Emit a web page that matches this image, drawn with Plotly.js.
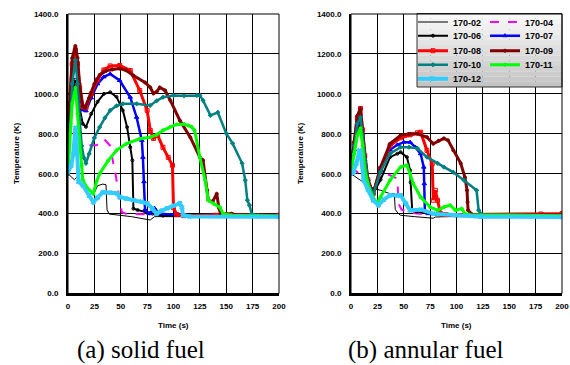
<!DOCTYPE html>
<html><head><meta charset="utf-8">
<script src="https://cdn.plot.ly/plotly-3.0.1.min.js"></script>
<style>html,body{margin:0;padding:0;background:#fff;}#chart{width:570px;height:365px;}</style>
</head><body><div id="chart"></div>
<script>
// ---------- DATA ----------
const seriesNames = ['170-02','170-04','170-06','170-07','170-08','170-09','170-10','170-11','170-12'];
const xTickVals = [0,25,50,75,100,125,150,175,200];
const yTickVals = [0,200,400,600,800,1000,1200,1400];
const captionA = '(a) solid fuel';
const captionB = '(b) annular fuel';

// (a) solid fuel
const a_t_02 = [0,3,6,9,12,20,25,28,33,36,37,39,60,78,82,100,200];
const a_T_02 = [600,585,570,585,560,520,505,540,548,545,420,398,385,368,385,385,383];
const a_t_04 = [0,4,7,12,19,27,34,40,43,45,48,51,55,65,80,200];
const a_T_04 = [610,650,700,720,742,742,775,740,650,600,500,407,400,398,395,388];
const a_t_06 = [0,2,4,7,9,11,14,17,22,28,34,40,46,52,56,59,61,62,66,75,80,90,200];
const a_T_06 = [620,850,1000,1070,1020,930,850,835,900,960,1000,1008,985,917,833,733,667,425,418,405,400,390,385];
const a_t_07 = [0,2,4,7,9,11,14,17,22,28,34,40,49,59,65,70,71,72,73,77,82,86,105,110,200];
const a_T_07 = [620,900,1080,1180,1120,1000,920,915,980,1050,1085,1100,1067,983,883,767,682,560,420,400,427,400,395,387,385];
const a_t_08 = [0,2,4,7,9,11,14,17,22,28,34,40,49,59,68,75,78,81,85,90,95,99,100,103,110,140,150,200];
const a_T_08 = [630,950,1150,1220,1150,1030,935,930,1000,1070,1120,1140,1142,1117,1017,917,817,777,792,732,682,642,430,395,390,392,395,392];
const a_t_09 = [0,2,4,7,9,11,14,16,20,25,30,36,42,49,55,62,73,78,81,84,87,92,97,106,116,125,128,132,133,137,141,143,145,155,160,200];
const a_T_09 = [640,1000,1180,1240,1180,1050,940,930,980,1050,1095,1115,1122,1127,1118,1092,1057,1032,1002,1010,1032,1017,967,867,782,682,667,517,467,460,500,430,392,400,392,390];
const a_t_10 = [0,2,4,7,9,11,13,15,17,20,25,30,35,40,46,52,65,78,84,90,100,110,122,125,128,135,142,150,156,165,168,170,172,174,180,200];
const a_T_10 = [600,850,1050,1170,1050,880,740,680,652,700,780,833,880,917,940,950,950,942,965,983,992,990,992,992,967,892,907,802,752,652,567,467,442,400,390,388];
const a_t_11 = [0,2,4,7,9,11,13,14,18,24,27,30,38,46,55,68,78,84,90,97,103,110,114,117,120,125,130,133,138,144,147,155,200];
const a_T_11 = [610,800,950,1030,900,750,640,570,530,500,560,600,665,717,750,775,783,795,817,835,847,848,842,835,817,682,567,467,450,432,400,392,388];
const a_t_12 = [0,3,5,7,8,10,14,20,24,28,33,40,46,49,55,62,70,75,80,84,89,94,100,106,108,109,115,200];
const a_T_12 = [610,640,700,830,780,560,542,490,457,480,507,505,502,483,475,467,460,452,425,400,415,427,440,452,430,392,386,384];

// (b) annular fuel
const b_t_02 = [0,3,9,15,22,28,37,41,42,45,47,60,78,80,90,200];
const b_T_02 = [600,590,567,545,525,517,500,500,420,400,392,385,377,383,385,383];
const b_t_04 = [0,4,8,15,22,31,38,44,45,48,55,65,200];
const b_T_04 = [600,615,600,545,530,605,590,575,450,420,405,400,390];
const b_t_06 = [0,3,6,9,11,13,16,21,28,37,44,47,53,56,56.5,58,62,75,80,200];
const b_T_06 = [600,700,820,860,780,650,560,500,570,683,700,708,683,617,557,417,410,405,398,385];
const b_t_07 = [0,3,6,9,11,13,16,21,28,37,44,50,56,61,66,69,69.5,70,73,200];
const b_T_07 = [610,720,850,890,800,670,570,505,620,720,745,758,758,733,700,633,550,417,400,386];
const b_t_08 = [0,3,6,9,11,13,16,21,28,37,47,56,63,66,72,77,78,80,82,85,90,180,200];
const b_T_08 = [620,750,880,927,820,690,570,500,625,740,780,795,805,808,717,650,467,517,467,400,395,398,400];
const b_t_09 = [0,3,6,9,11,13.5,16,21,28,37,47,55,63,72,78,83,88,92,97,104,108,110,110.5,111,115,200];
const b_T_09 = [630,760,890,927,800,683,567,500,633,750,792,800,800,783,750,765,777,767,717,652,582,517,458,417,395,393];
const b_t_10 = [0,3,6,9,11,13,16,21,28,37,47,55,63,72,82,88,97,107,119,121,124,200];
const b_T_10 = [610,740,850,883,790,670,560,495,610,700,733,733,727,683,652,633,607,567,517,417,395,388];
const b_t_11 = [0,3,6,9,11,13,17,22,25,28,37,47,53,56,59,66,75,82,88,94,99,105,108,112,200];
const b_T_11 = [610,700,790,828,740,620,530,470,455,483,567,633,642,600,550,483,433,417,433,442,417,425,400,395,390];
const b_t_12 = [0,2,5,8,9,12,16,21,26,31,37,44,47,52,56,66,78,100,123,200];
const b_T_12 = [600,607,650,717,708,567,520,467,442,470,492,490,492,450,417,420,400,392,385,383];

// ---------- STYLES ----------
const styles = {
  '170-02': {color:'#000000', width:1, dash:'solid', mode:'lines'},
  '170-04': {color:'#ff00ff', width:2, dash:'dash', mode:'lines'},
  '170-06': {color:'#000000', width:2, dash:'solid', mode:'lines+markers', symbol:'circle-open', size:3},
  '170-07': {color:'#0000ff', width:2.5, dash:'solid', mode:'lines+markers', symbol:'triangle-up', size:4},
  '170-08': {color:'#ff0000', width:3, dash:'solid', mode:'lines+markers', symbol:'square-open', size:4},
  '170-09': {color:'#800000', width:3, dash:'solid', mode:'lines+markers', symbol:'circle', size:3},
  '170-10': {color:'#008080', width:2.5, dash:'solid', mode:'lines+markers', symbol:'cross', size:3},
  '170-11': {color:'#00ff00', width:3, dash:'solid', mode:'lines+markers', symbol:'circle', size:3},
  '170-12': {color:'#33ccff', width:4, dash:'solid', mode:'lines+markers', symbol:'x', size:4}
};
const aData = {
  '170-02':[a_t_02,a_T_02],'170-04':[a_t_04,a_T_04],'170-06':[a_t_06,a_T_06],
  '170-07':[a_t_07,a_T_07],'170-08':[a_t_08,a_T_08],'170-09':[a_t_09,a_T_09],
  '170-10':[a_t_10,a_T_10],'170-11':[a_t_11,a_T_11],'170-12':[a_t_12,a_T_12]
};
const bData = {
  '170-02':[b_t_02,b_T_02],'170-04':[b_t_04,b_T_04],'170-06':[b_t_06,b_T_06],
  '170-07':[b_t_07,b_T_07],'170-08':[b_t_08,b_T_08],'170-09':[b_t_09,b_T_09],
  '170-10':[b_t_10,b_T_10],'170-11':[b_t_11,b_T_11],'170-12':[b_t_12,b_T_12]
};
const legendRow = {
  '170-02':'legend','170-04':'legend','170-06':'legend2','170-07':'legend2',
  '170-08':'legend3','170-09':'legend3','170-10':'legend4','170-11':'legend4','170-12':'legend5'
};

const W = 570, H = 365;
const px = p => p / W;
const py = p => 1 - p / H;

function mk(name, d, xa, ya, show) {
  const s = styles[name];
  const tr = {
    type:'scatter', x:d[0], y:d[1], name:name, xaxis:xa, yaxis:ya,
    mode:s.mode, line:{color:s.color, width:s.width, dash:s.dash},
    showlegend:show, hoverinfo:'skip'
  };
  if (s.symbol) tr.marker = {symbol:s.symbol, size:s.size, color:s.color, line:{color:s.color, width:1}};
  if (show) tr.legend = legendRow[name];
  return tr;
}
const traces = [];
seriesNames.forEach(n => traces.push(mk(n, aData[n], 'x', 'y', false)));
seriesNames.forEach(n => traces.push(mk(n, bData[n], 'x2', 'y2', true)));

const sans = 'Liberation Sans';
const serif = 'Liberation Serif';
const tickFont = {family:sans, size:8, color:'#000', weight:'bold'};
function xax(dom, anchor) {
  return {domain:dom, anchor:anchor, range:[0,200], tickvals:xTickVals, ticktext:xTickVals.map(String),
    showgrid:true, gridcolor:'#000', gridwidth:1, showline:true, linecolor:'#000', linewidth:2,
    ticks:'', tickfont:tickFont, zeroline:false, fixedrange:true, ticklabelstandoff:4};
}
function yax(anchor) {
  return {domain:[1-293.5/H, 1-14/H], anchor:anchor, range:[0,1400], tickvals:yTickVals,
    ticktext:yTickVals.map(v => v.toFixed(1)),
    showgrid:true, gridcolor:'#000', gridwidth:1, showline:true, linecolor:'#000', linewidth:2,
    ticks:'', tickfont:tickFont, zeroline:false, fixedrange:true, ticklabelstandoff:6};
}

// legend background (gradient approximated by strips)
const shapes = [];
const lx0 = 417, lx1 = 562, ly0 = 13.5, ly1 = 87;
const nStrips = 14;
for (let i = 0; i < nStrips; i++) {
  const f = i / (nStrips - 1);
  const g = Math.round(248 - f * 52);
  shapes.push({type:'rect', xref:'paper', yref:'paper', layer:'above',
    x0:px(lx0), x1:px(lx1), y0:py(ly0 + (ly1-ly0)*i/nStrips), y1:py(ly0 + (ly1-ly0)*(i+1)/nStrips),
    fillcolor:`rgb(${g},${g},${g})`, line:{width:0}});
}
shapes.push({type:'rect', xref:'paper', yref:'paper', layer:'above',
  x0:px(lx0), x1:px(lx1), y0:py(ly1), y1:py(ly0), fillcolor:'rgba(0,0,0,0)', line:{color:'#333', width:1}});
// plot borders (top/right)
[[68,279],[351,562]].forEach(([l,r]) => {
  shapes.push({type:'rect', xref:'paper', yref:'paper', layer:'above',
    x0:px(l), x1:px(r), y0:py(293.5), y1:py(14), line:{color:'#000', width:1}});
});

const boldSmall = {family:sans, size:8, color:'#000', weight:'bold'};
const capFont = {family:serif, size:25, color:'#000'};
const annotations = [
  {text:'Time (s)', xref:'paper', yref:'paper', x:px(173.5), y:py(325), showarrow:false, font:boldSmall, xanchor:'center', yanchor:'middle'},
  {text:'Time (s)', xref:'paper', yref:'paper', x:px(456.5), y:py(325), showarrow:false, font:boldSmall, xanchor:'center', yanchor:'middle'},
  {text:'Temperature (K)', xref:'paper', yref:'paper', x:px(17), y:py(153), textangle:-90, showarrow:false, font:boldSmall, xanchor:'center', yanchor:'middle'},
  {text:'Temperature (K)', xref:'paper', yref:'paper', x:px(301), y:py(153), textangle:-90, showarrow:false, font:boldSmall, xanchor:'center', yanchor:'middle'},
  {text:captionA, xref:'paper', yref:'paper', x:px(140.5), y:py(350), showarrow:false, font:capFont, xanchor:'center', yanchor:'middle'},
  {text:captionB, xref:'paper', yref:'paper', x:px(425.5), y:py(350), showarrow:false, font:capFont, xanchor:'center', yanchor:'middle'}
];

const legFont = {family:sans, size:9, color:'#000', weight:'bold'};
function leg(rowY) {
  return {orientation:'h', x:px(413), xanchor:'left', y:py(rowY), yanchor:'middle',
    bgcolor:'rgba(0,0,0,0)', borderwidth:0, font:legFont, entrywidth:27, entrywidthmode:'pixels',
    itemclick:false, itemdoubleclick:false, traceorder:'normal', tracegroupgap:0};
}

const layout = {
  width:W, height:H, margin:{l:0,r:0,t:0,b:0}, paper_bgcolor:'#fff', plot_bgcolor:'#fff',
  showlegend:true,
  xaxis:xax([68/W, 279/W], 'y'), yaxis:yax('x'),
  xaxis2:xax([351/W, 562/W], 'y2'), yaxis2:yax('x2'),
  legend:leg(22), legend2:leg(35.7), legend3:leg(50.7), legend4:leg(64.7), legend5:leg(78.7),
  shapes:shapes, annotations:annotations
};
Plotly.newPlot('chart', traces, layout, {displayModeBar:false, staticPlot:true});
</script></body></html>
